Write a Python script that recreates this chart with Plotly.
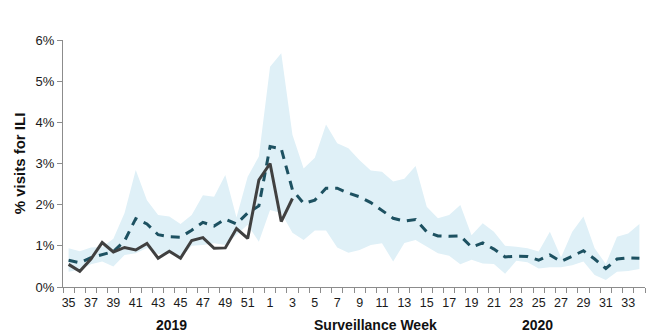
import plotly.graph_objects as go

weeks = [str(w) for w in list(range(35, 53)) + list(range(1, 35))]

current_season = [0.55, 0.38, 0.68, 1.08, 0.85, 0.96, 0.90, 1.06, 0.70, 0.87,
                  0.70, 1.13, 1.20, 0.94, 0.95, 1.42, 1.18, 2.60, 3.00, 1.59, 2.15]

average_season = [0.65, 0.59, 0.71, 0.78, 0.86, 1.12, 1.66, 1.53, 1.27, 1.22,
                  1.21, 1.38, 1.57, 1.48, 1.65, 1.53, 1.80, 1.97, 3.41, 3.36,
                  2.36, 2.03, 2.11, 2.40, 2.40, 2.28, 2.19, 2.05, 1.87, 1.67,
                  1.60, 1.64, 1.34, 1.24, 1.23, 1.24, 0.97, 1.07, 0.92, 0.73,
                  0.75, 0.74, 0.65, 0.78, 0.62, 0.75, 0.88, 0.68, 0.45, 0.68,
                  0.71, 0.70]

range_upper = [0.94, 0.87, 0.96, 0.97, 1.17, 1.80, 2.84, 2.11, 1.75, 1.71,
               1.53, 1.75, 2.23, 2.19, 2.72, 1.69, 2.68, 3.17, 5.35, 5.68,
               3.70, 2.88, 3.14, 3.95, 3.49, 3.37, 3.08, 2.83, 2.80, 2.56,
               2.63, 2.94, 1.95, 1.67, 1.75, 1.99, 1.26, 1.55, 1.34, 1.00,
               0.98, 0.94, 0.86, 1.34, 0.72, 1.34, 1.71, 0.94, 0.56, 1.22,
               1.30, 1.53]

range_lower = [0.37, 0.42, 0.55, 0.62, 0.50, 0.78, 0.82, 0.95, 0.80, 0.82,
               0.70, 1.00, 1.02, 1.06, 1.02, 1.26, 1.51, 1.10, 1.87, 1.80,
               1.32, 1.14, 1.37, 1.37, 0.96, 0.83, 0.90, 1.02, 1.06, 0.62,
               1.07, 1.14, 0.98, 0.82, 0.76, 0.55, 0.66, 0.57, 0.56, 0.32,
               0.64, 0.60, 0.45, 0.48, 0.48, 0.53, 0.62, 0.29, 0.17, 0.37,
               0.39, 0.44]

y_ticks = [0, 1, 2, 3, 4, 5, 6]
y_tick_labels = ["0%", "1%", "2%", "3%", "4%", "5%", "6%"]

pos = list(range(len(weeks)))
band_x = pos + pos[::-1]
band_y = [v / 100 for v in range_upper] + [v / 100 for v in range_lower[::-1]]

fig = go.Figure()
fig.add_trace(go.Scatter(
    x=band_x, y=band_y, fill="toself", mode="lines",
    line=dict(width=0, color="rgba(0,0,0,0)"),
    fillcolor="#dff0f7", hoverinfo="skip", showlegend=False))
fig.add_trace(go.Scatter(
    x=pos, y=[v / 100 for v in average_season], mode="lines",
    line=dict(color="#1d5161", width=3, dash="9px,7px"), showlegend=False))
fig.add_trace(go.Scatter(
    x=pos[:len(current_season)], y=[v / 100 for v in current_season],
    mode="lines", line=dict(color="#404040", width=3), showlegend=False))

label_vals = pos[::2]
label_text = weeks[::2]

fig.update_layout(
    width=663, height=336,
    margin=dict(l=63, r=18, t=40, b=49),
    paper_bgcolor="white", plot_bgcolor="white",
    font=dict(family="Liberation Sans, Arial, sans-serif", color="#1a1a1a"),
    xaxis=dict(
        range=[-0.5, len(weeks) - 0.5],
        tickmode="array", tickvals=label_vals, ticktext=label_text,
        ticks="", showgrid=False, zeroline=False,
        showline=True, linecolor="#8c8c8c", linewidth=1,
        tickfont=dict(size=12.5, color="#1a1a1a"),
        ticklabelstandoff=4,
        minor=dict(tickmode="array",
                   tickvals=[p - 0.5 for p in pos] + [len(weeks) - 0.5],
                   ticks="outside", ticklen=5, tickcolor="#8c8c8c",
                   tickwidth=1, showgrid=False),
    ),
    yaxis=dict(
        range=[0, 0.06],
        tickmode="array", tickvals=[t / 100 for t in y_ticks],
        ticktext=y_tick_labels,
        ticks="outside", ticklen=5, tickcolor="#8c8c8c",
        showgrid=False, zeroline=False,
        showline=True, linecolor="#8c8c8c", linewidth=1,
        tickfont=dict(size=13, color="#1a1a1a"),
        title=dict(text="<b>% visits for ILI</b>", font=dict(size=15, color="#111111"),
                   standoff=6),
    ),
)

for txt, xpos in [("2019", 9.2), ("Surveillance Week", 27.4), ("2020", 41.9)]:
    fig.add_annotation(x=xpos, y=-0.155, xref="x", yref="paper",
                       text="<b>" + txt + "</b>", showarrow=False,
                       font=dict(size=14, color="#111111"),
                       xanchor="center", yanchor="middle")

fig.write_html("out.html")
